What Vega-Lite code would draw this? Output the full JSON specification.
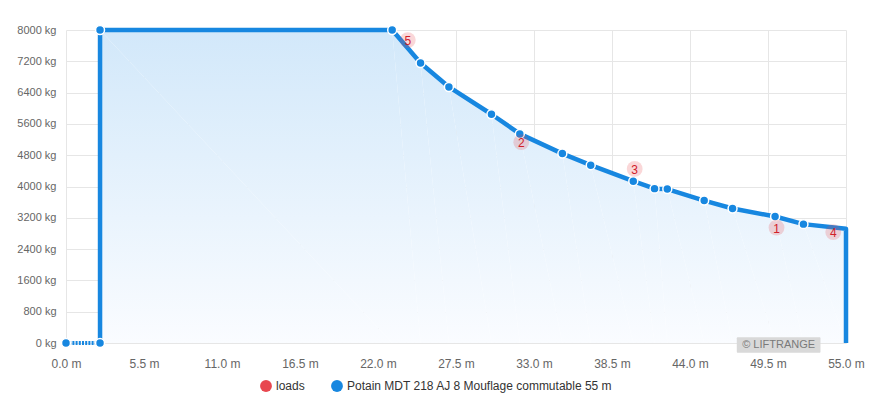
{
  "$schema": "https://vega.github.io/schema/vega-lite/v6.json",
  "width": 780,
  "height": 313,
  "autosize": {"type": "none"},
  "padding": {"left": 66, "top": 30, "right": 29, "bottom": 57},
  "background": "white",
  "datasets": {
    "curve": [
      {"i": 1, "d": 0, "kg": 0},
      {"i": 2, "d": 2.4, "kg": 0},
      {"i": 3, "d": 2.4, "kg": 8000},
      {"i": 4, "d": 23, "kg": 8000},
      {"i": 5, "d": 25, "kg": 7157},
      {"i": 6, "d": 27, "kg": 6544},
      {"i": 7, "d": 30, "kg": 5847},
      {"i": 8, "d": 32, "kg": 5344},
      {"i": 9, "d": 35, "kg": 4841},
      {"i": 10, "d": 37, "kg": 4545},
      {"i": 11, "d": 40, "kg": 4136},
      {"i": 12, "d": 41.5, "kg": 3945},
      {"i": 13, "d": 42.4, "kg": 3935},
      {"i": 14, "d": 45, "kg": 3641},
      {"i": 15, "d": 47, "kg": 3437},
      {"i": 16, "d": 50, "kg": 3232},
      {"i": 17, "d": 52, "kg": 3038},
      {"i": 18, "d": 55, "kg": 2920},
      {"i": 19, "d": 55, "kg": 0}
    ],
    "loads": [
      {"n": "1", "d": 50.1, "kg": 2951},
      {"n": "2", "d": 32.1, "kg": 5132},
      {"n": "3", "d": 40.1, "kg": 4450},
      {"n": "4", "d": 54.1, "kg": 2834},
      {"n": "5", "d": 24.1, "kg": 7743}
    ],
    "credit": [
      {"x1": 47.3, "x2": 53.2, "y1": -250, "y2": 150, "xm": 50.25, "ym": -50, "label": "© LIFTRANGE"}
    ]
  },
  "layer": [
    {
      "data": {"name": "curve"},
      "transform": [{"filter": "datum.i >= 3 && datum.i <= 18"}],
      "mark": {
        "type": "area",
        "color": {
          "gradient": "linear", "x1": 0, "y1": 0, "x2": 0, "y2": 1,
          "stops": [{"offset": 0, "color": "#d2e8fa"}, {"offset": 1, "color": "#fafcff"}]
        }
      },
      "encoding": {
        "x": {"field": "d", "type": "quantitative"},
        "y": {"field": "kg", "type": "quantitative"},
        "order": {"field": "i"}
      }
    },
    {
      "data": {"name": "curve"},
      "transform": [{"filter": "datum.i <= 2"}],
      "mark": {"type": "line", "color": "#1787e0", "strokeWidth": 4, "strokeDash": [2, 1.2]},
      "encoding": {
        "x": {"field": "d", "type": "quantitative"},
        "y": {"field": "kg", "type": "quantitative"},
        "order": {"field": "i"}
      }
    },
    {
      "data": {"name": "curve"},
      "transform": [{"filter": "datum.i >= 2"}],
      "mark": {"type": "line", "color": "#1787e0", "strokeWidth": 4.5, "strokeJoin": "round"},
      "encoding": {
        "x": {"field": "d", "type": "quantitative"},
        "y": {"field": "kg", "type": "quantitative"},
        "order": {"field": "i"}
      }
    },
    {
      "data": {"name": "curve"},
      "transform": [{"filter": "datum.i <= 17"}],
      "mark": {"type": "point", "filled": true, "size": 80, "opacity": 1, "stroke": "white", "strokeWidth": 1.5},
      "encoding": {
        "x": {"field": "d", "type": "quantitative"},
        "y": {"field": "kg", "type": "quantitative"},
        "color": {"datum": "Potain MDT 218 AJ 8 Mouflage commutable 55 m", "type": "nominal"}
      }
    },
    {
      "data": {"name": "loads"},
      "mark": {"type": "point", "filled": true, "size": 250, "opacity": 1, "fillOpacity": 0.22},
      "encoding": {
        "x": {"field": "d", "type": "quantitative"},
        "y": {"field": "kg", "type": "quantitative"},
        "color": {"datum": "loads", "type": "nominal"}
      }
    },
    {
      "data": {"name": "loads"},
      "mark": {"type": "text", "color": "#d0202a", "fontSize": 12, "font": "Liberation Sans", "baseline": "middle", "align": "center", "dy": 1},
      "encoding": {
        "x": {"field": "d", "type": "quantitative"},
        "y": {"field": "kg", "type": "quantitative"},
        "text": {"field": "n"}
      }
    },
    {
      "data": {"name": "credit"},
      "mark": {"type": "rect", "color": "#d9d9d9", "cornerRadius": 1},
      "encoding": {
        "x": {"field": "x1", "type": "quantitative"},
        "x2": {"field": "x2"},
        "y": {"field": "y1", "type": "quantitative"},
        "y2": {"field": "y2"}
      }
    },
    {
      "data": {"name": "credit"},
      "mark": {"type": "text", "color": "#7a7a7a", "fontSize": 11, "font": "Liberation Sans", "baseline": "middle", "align": "center"},
      "encoding": {
        "x": {"field": "xm", "type": "quantitative"},
        "y": {"field": "ym", "type": "quantitative"},
        "text": {"field": "label"}
      }
    }
  ],
  "resolve": {"scale": {"color": "shared"}},
  "encoding": {
    "x": {
      "type": "quantitative",
      "scale": {"domain": [0, 55], "nice": false},
      "axis": {
        "title": null,
        "values": [0, 5.5, 11, 16.5, 22, 27.5, 33, 38.5, 44, 49.5, 55],
        "labelExpr": "format(datum.value, '.1f') + ' m'",
        "labelPadding": 15,
        "labelFontSize": 12,
        "labelFlush": false,
        "labelOverlap": false
      }
    },
    "y": {
      "type": "quantitative",
      "scale": {"domain": [0, 8000], "nice": false, "zero": false},
      "axis": {
        "title": null,
        "values": [0, 800, 1600, 2400, 3200, 4000, 4800, 5600, 6400, 7200, 8000],
        "labelExpr": "format(datum.value, 'd') + ' kg'",
        "labelPadding": 10,
        "labelFontSize": 11
      }
    },
    "color": {
      "type": "nominal",
      "scale": {
        "domain": ["loads", "Potain MDT 218 AJ 8 Mouflage commutable 55 m"],
        "range": ["#e8474f", "#1787e0"]
      },
      "legend": {
        "title": null,
        "orient": "none",
        "legendX": 194,
        "legendY": 350,
        "direction": "horizontal",
        "symbolType": "circle",
        "symbolSize": 140,
        "symbolOpacity": 1,
        "symbolStrokeWidth": 0,
        "labelFontSize": 12,
        "labelColor": "#333333",
        "labelFont": "Liberation Sans",
        "labelLimit": 0,
        "columnPadding": 26,
        "labelOffset": 4
      }
    }
  },
  "config": {
    "view": {"stroke": null},
    "axis": {
      "domain": false,
      "ticks": false,
      "gridColor": "#e6e6e6",
      "gridWidth": 1,
      "labelFont": "Liberation Sans",
      "labelColor": "#666666"
    }
  }
}
